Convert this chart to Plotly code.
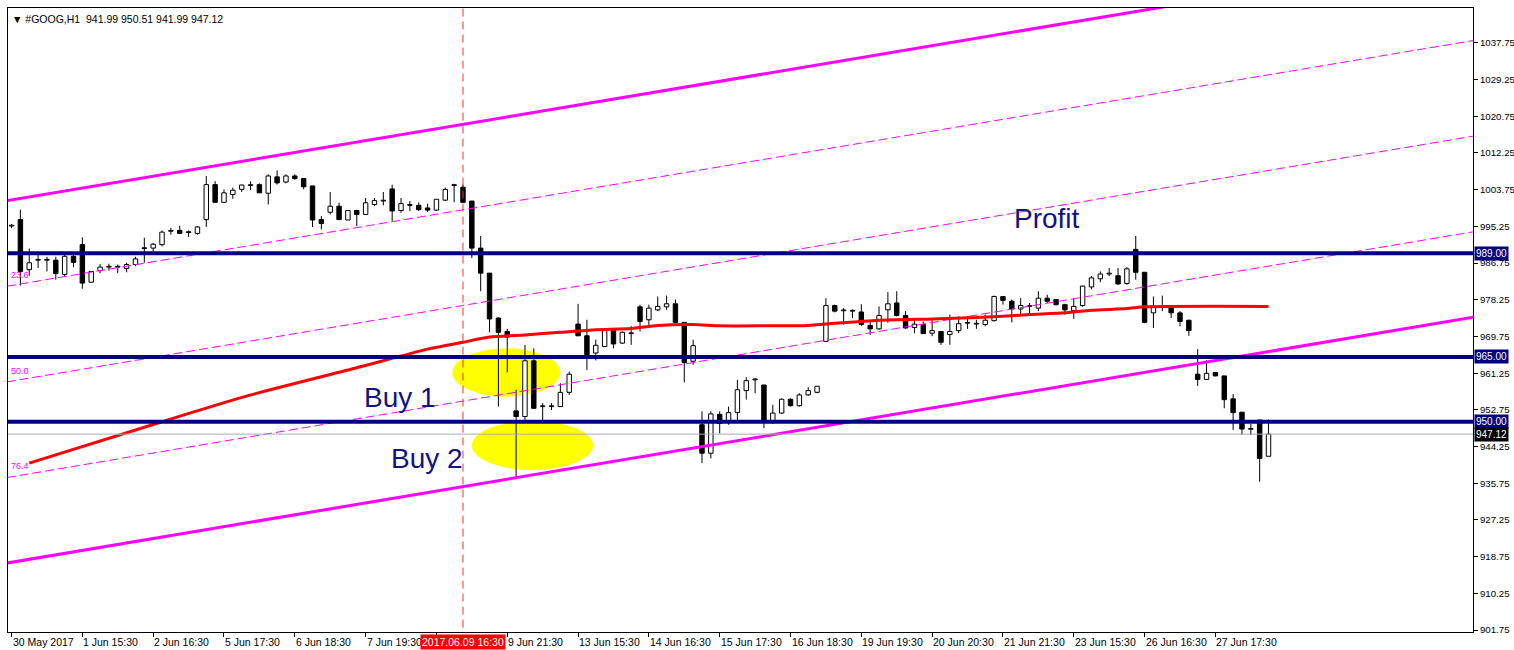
import plotly.graph_objects as go

# ---------------- data ----------------
bar_index = list(range(143))

opens = [995.3, 996.8, 985.2, 987.4, 987.5, 987.4, 984.1, 988.3, 991.0, 982.3,
         985.0, 985.8, 985.8, 985.5, 986.4, 990.2, 990.2, 991.0, 994.1, 994.3,
         993.9, 993.6, 996.8, 1004.9, 1000.8, 1002.6, 1003.8, 1004.7, 1004.9, 1002.9,
         1006.7, 1005.5, 1006.9, 1006.3, 1004.6, 996.8, 998.5, 999.9, 996.7, 998.9,
         998.0, 1000.3, 1001.1, 1003.9, 998.9, 1000.1, 1000.1, 999.5, 999.0, 1001.3,
         1004.8, 1004.3, 1001.1, 990.2, 984.4, 974.0, 970.9, 952.5, 951.2, 964.1,
         953.5, 953.5, 953.5, 956.8, 972.6, 969.9, 965.9, 967.4, 971.1, 968.2,
         970.4, 976.6, 973.6, 975.9, 976.6, 977.3, 973.0, 964.0, 949.3, 942.7,
         951.7, 949.8, 952.1, 957.2, 959.7, 958.5, 950.0, 952.0, 955.2, 953.7,
         956.2, 956.8, 968.6, 976.9, 975.7, 975.6, 975.4, 972.3, 971.5, 975.9,
         977.5, 974.6, 971.8, 972.5, 970.5, 970.9, 970.2, 971.1, 972.8, 972.6,
         972.5, 973.4, 979.0, 977.9, 976.1, 976.7, 976.3, 978.6, 978.3, 977.1,
         975.7, 976.9, 981.2, 983.1, 984.2, 983.8, 982.0, 989.9, 984.6, 975.2,
         976.6, 976.3, 975.2, 973.5, 961.0, 959.8, 961.4, 960.6, 955.3, 952.2,
         948.25, 950.4, 941.99]

highs = [995.8, 999.1, 990.1, 988.7, 988.2, 988.2, 988.7, 989.1, 992.7, 984.8,
         986.5, 986.6, 986.4, 986.8, 988.2, 992.6, 991.4, 994.3, 994.9, 995.4,
         994.3, 995.3, 1006.9, 1005.7, 1003.8, 1004.2, 1004.9, 1005.7, 1005.2, 1007.3,
         1008.2, 1007.3, 1007.3, 1006.3, 1004.6, 997.6, 1003.2, 1000.7, 998.9, 999.1,
         1001.8, 1001.8, 1003.2, 1004.9, 1001.8, 1001.1, 1000.8, 1000.5, 1001.5, 1004.2,
         1005.1, 1004.9, 1001.1, 993.0, 984.4, 974.2, 971.5, 957.4, 967.8, 967.0,
         954.3, 954.3, 958.9, 961.6, 977.3, 973.6, 969.0, 971.7, 971.3, 970.9,
         972.1, 977.1, 977.1, 979.0, 979.2, 978.3, 973.0, 969.0, 952.4, 952.4,
         952.4, 953.5, 959.7, 960.3, 960.1, 958.5, 953.9, 955.4, 955.4, 956.6,
         958.0, 958.2, 978.6, 977.1, 976.3, 976.0, 977.2, 973.2, 976.7, 980.0,
         980.2, 975.6, 973.6, 973.2, 974.0, 970.9, 974.8, 974.4, 974.4, 973.6,
         974.8, 979.2, 979.0, 978.3, 978.6, 977.5, 980.2, 979.4, 978.4, 977.3,
         978.6, 981.5, 983.7, 984.8, 985.6, 985.6, 985.8, 993.0, 984.6, 979.0,
         979.2, 976.6, 975.6, 973.6, 966.8, 964.2, 961.4, 960.6, 956.4, 952.2,
         949.5, 950.4, 950.51]

lows = [994.8, 981.5, 983.8, 985.6, 984.8, 982.9, 983.7, 985.8, 980.8, 982.3,
        984.4, 985.0, 984.4, 984.6, 986.0, 986.8, 988.9, 990.6, 993.3, 993.6,
        992.8, 993.3, 995.1, 1000.8, 1000.7, 1001.6, 1003.2, 1003.6, 1003.0, 1000.3,
        1004.9, 1005.2, 1006.0, 1003.8, 995.1, 994.5, 998.0, 996.7, 996.7, 995.3,
        998.0, 999.9, 1000.1, 996.4, 998.4, 998.8, 998.8, 998.6, 998.8, 1001.1,
        1000.8, 1000.7, 987.9, 980.2, 970.7, 953.5, 961.4, 936.9, 950.4, 953.1,
        950.4, 952.7, 953.5, 956.2, 969.8, 962.0, 964.2, 967.3, 967.0, 968.0,
        967.8, 970.9, 972.2, 975.6, 975.9, 972.8, 959.1, 963.2, 940.4, 941.5,
        947.3, 949.3, 950.4, 955.1, 956.6, 948.5, 949.5, 951.8, 953.5, 953.5,
        956.0, 956.6, 968.6, 975.3, 972.5, 974.0, 972.2, 970.1, 971.3, 972.9,
        974.4, 971.5, 970.5, 970.4, 969.8, 967.8, 967.8, 970.5, 971.5, 971.5,
        972.1, 973.2, 977.1, 973.0, 974.8, 975.2, 975.6, 977.5, 976.9, 974.8,
        973.8, 976.6, 980.7, 982.3, 983.7, 981.7, 981.7, 982.9, 972.8, 971.7,
        975.6, 974.0, 972.1, 969.9, 958.3, 959.8, 960.5, 953.1, 948.1, 946.9,
        946.9, 936.1, 941.99]

closes = [995.5, 984.8, 986.8, 987.5, 987.4, 984.3, 988.3, 986.9, 982.1, 984.8,
          985.8, 985.9, 985.9, 986.4, 987.7, 990.1, 991.1, 993.9, 994.2, 993.6,
          993.8, 995.1, 1004.9, 1000.8, 1003.0, 1003.6, 1004.8, 1004.8, 1003.0, 1006.9,
          1005.3, 1006.9, 1006.3, 1004.4, 996.7, 995.9, 999.9, 996.8, 998.9, 998.0,
          1000.7, 1001.2, 1001.2, 998.8, 1000.5, 1000.2, 999.1, 999.0, 1001.5, 1003.8,
          1004.7, 1000.8, 990.2, 984.4, 973.8, 970.7, 969.6, 951.2, 964.1, 953.1,
          953.6, 953.6, 956.8, 961.0, 969.9, 965.5, 967.7, 971.1, 968.0, 970.7,
          970.5, 973.2, 976.3, 976.7, 977.3, 973.0, 963.7, 967.6, 942.7, 951.8,
          949.6, 952.1, 957.4, 959.5, 959.8, 950.0, 952.0, 955.2, 953.7, 956.2,
          957.2, 958.2, 976.9, 975.6, 975.8, 975.7, 972.5, 971.5, 974.6, 977.3,
          974.6, 971.7, 972.6, 970.4, 971.1, 968.4, 970.9, 972.7, 972.9, 972.7,
          973.5, 979.0, 978.1, 976.1, 976.9, 976.8, 978.6, 977.9, 977.1, 975.9,
          976.7, 981.4, 983.3, 984.2, 984.3, 981.9, 985.4, 984.6, 973.0, 976.6,
          976.7, 975.2, 973.2, 971.1, 959.8, 961.2, 960.6, 955.1, 952.1, 948.3,
          948.3, 941.5, 947.12]

# moving average read at selected bars
ma_index = [2, 17, 27, 39, 47, 51, 54, 58, 62, 66, 70, 73, 77, 80, 85, 90, 93,
            98, 104, 109, 115, 119, 122, 126, 128, 142]
ma_values = [940.4, 950.0, 956.2, 962.5, 966.8, 968.4, 969.6, 970.1, 970.7, 971.3,
             971.6, 972.3, 972.5, 972.2, 972.2, 972.3, 972.8, 973.5, 973.8, 974.1,
             974.8, 975.2, 975.8, 976.2, 976.6, 976.7]

# time axis labels (every 8 bars; the one at bar 48 is hidden under the marker label)
tick_index = [0, 8, 16, 24, 32, 40, 48, 56, 64, 72, 80, 88, 96, 104, 112, 120, 128, 136]
tick_labels = ["30 May 2017", "1 Jun 15:30", "2 Jun 16:30", "5 Jun 17:30", "6 Jun 18:30",
               "7 Jun 19:30", "", "9 Jun 21:30", "13 Jun 15:30", "14 Jun 16:30",
               "15 Jun 17:30", "16 Jun 18:30", "19 Jun 19:30", "20 Jun 20:30",
               "21 Jun 21:30", "23 Jun 15:30", "26 Jun 16:30", "27 Jun 17:30"]

price_ticks = [1037.75, 1029.25, 1020.75, 1012.25, 1003.75, 995.25, 986.75, 978.25,
               969.75, 961.25, 952.75, 944.25, 935.75, 927.25, 918.75, 910.25, 901.75]

# horizontal levels and Fibonacci channel
level_prices = [989.0, 965.0, 950.0]
fib_levels = [0.0, 23.6, 50.0, 76.4, 100.0]
fib_label_levels = [23.6, 50.0, 76.4]
channel_bars = [0, 142]
channel_upper = [1001.35, 1050.13]
channel_lower = [917.45, 966.23]

marker_bar = 51
marker_label = "2017.06.09 16:30"
symbol = "#GOOG,H1"

# annotation zones (Buy areas)
zone_buy1 = (49.8, 62.0, 955.8, 967.0)
zone_buy2 = (52.0, 65.7, 938.8, 950.2)

# ---------------- figure ----------------
X_RANGE = [-0.4, 165.1]
Y_RANGE = [901.3, 1045.8]
NAVY = "#000080"
MAG = "#ff00ff"
FONT = "Liberation Sans, Arial"

fig = go.Figure()

for (x0, x1, y0, y1) in (zone_buy1, zone_buy2):
    fig.add_shape(type="circle", xref="x", yref="y", x0=x0, x1=x1, y0=y0, y1=y1,
                  fillcolor="#ffff00", line=dict(width=0), layer="below")

# candle bodies
MIN_BODY = 0.18
bases, heights, fills = [], [], []
for o, c in zip(opens, closes):
    b = min(o, c)
    h = max(abs(c - o), MIN_BODY)
    bases.append(b)
    heights.append(h)
    fills.append("white" if c >= o else "black")

fig.add_trace(go.Bar(x=bar_index, y=heights, base=bases, width=0.5,
                     marker=dict(color=fills, line=dict(color="black", width=1)),
                     hoverinfo="skip", showlegend=False))

# wicks
wx, wy = [], []
for i, b, h, hi, lo in zip(bar_index, bases, heights, highs, lows):
    top = b + h
    if hi > top:
        wx += [i, i, None]
        wy += [top, hi, None]
    if lo < b:
        wx += [i, i, None]
        wy += [lo, b, None]
fig.add_trace(go.Scatter(x=wx, y=wy, mode="lines", line=dict(color="black", width=1),
                         hoverinfo="skip", showlegend=False))

# Fibonacci channel
slope_u = (channel_upper[1] - channel_upper[0]) / (channel_bars[1] - channel_bars[0])
slope_l = (channel_lower[1] - channel_lower[0]) / (channel_bars[1] - channel_bars[0])
xa, xb = -2.0, 170.0


def upper_at(x):
    return channel_upper[0] + slope_u * (x - channel_bars[0])


def lower_at(x):
    return channel_lower[0] + slope_l * (x - channel_bars[0])


def fib_at(x, lvl):
    u = upper_at(x)
    return u - lvl / 100.0 * (u - lower_at(x))


for lvl in fib_levels:
    solid = lvl in (0.0, 100.0)
    fig.add_trace(go.Scatter(
        x=[xa, xb], y=[fib_at(xa, lvl), fib_at(xb, lvl)], mode="lines",
        line=dict(color=MAG, width=3 if solid else 1, dash=None if solid else "9px,4px"),
        hoverinfo="skip", showlegend=False))

# moving average
fig.add_trace(go.Scatter(x=ma_index, y=ma_values, mode="lines",
                         line=dict(color="#ff0000", width=3, shape="spline", smoothing=0.6),
                         hoverinfo="skip", showlegend=False))

# bid line
fig.add_trace(go.Scatter(x=[xa, xb], y=[closes[-1], closes[-1]], mode="lines",
                         line=dict(color="#a8acb8", width=1),
                         hoverinfo="skip", showlegend=False))

# horizontal levels
for p in level_prices:
    fig.add_trace(go.Scatter(x=[xa, xb], y=[p, p], mode="lines",
                             line=dict(color=NAVY, width=4),
                             hoverinfo="skip", showlegend=False))

# vertical marker
fig.add_trace(go.Scatter(x=[marker_bar, marker_bar], y=[Y_RANGE[0] - 5, Y_RANGE[1] + 5],
                         mode="lines", line=dict(color="#ff3030", width=1, dash="8px,5px"),
                         hoverinfo="skip", showlegend=False))

annotations = []

# header
annotations.append(dict(
    xref="paper", yref="paper", x=0, y=1, xanchor="left", yanchor="top",
    xshift=2, yshift=-3, showarrow=False,
    text="\u25bc %s  %.2f %.2f %.2f %.2f" % (symbol, opens[-1], highs[-1], lows[-1], closes[-1]),
    font=dict(family=FONT, size=10.5, color="black")))

# time labels
for xi, lab in zip(tick_index, tick_labels):
    if not lab:
        continue
    annotations.append(dict(
        xref="x", yref="paper", x=xi, y=0, xanchor="left", yanchor="top",
        xshift=-1, yshift=-2, showarrow=False, text=lab,
        font=dict(family=FONT, size=10.5, color="black")))

annotations.append(dict(
    xref="x", yref="paper", x=marker_bar, y=0, xanchor="center", yanchor="top",
    yshift=-2, showarrow=False, text=marker_label, bgcolor="#ff0000", borderpad=1,
    font=dict(family=FONT, size=10.5, color="white")))

# price boxes
for p in level_prices:
    annotations.append(dict(
        xref="paper", yref="y", x=1, y=p, xanchor="left", yanchor="middle",
        xshift=1, showarrow=False, text="%.2f" % p, bgcolor=NAVY, borderpad=1,
        font=dict(family=FONT, size=10, color="white")))
annotations.append(dict(
    xref="paper", yref="y", x=1, y=closes[-1], xanchor="left", yanchor="middle",
    xshift=1, showarrow=False, text="%.2f" % closes[-1], bgcolor="black", borderpad=1,
    font=dict(family=FONT, size=10, color="white")))

# fib labels at left edge
for lvl in fib_label_levels:
    annotations.append(dict(
        xref="paper", yref="y", x=0, y=fib_at(X_RANGE[0], lvl), xanchor="left",
        yanchor="bottom", xshift=1, yshift=4, showarrow=False, text="%.1f" % lvl,
        font=dict(family=FONT, size=9, color=MAG)))

# text labels
for txt, xi, yi in (("Buy 1", 43.9, 955.5), ("Buy 2", 46.9, 941.4), ("Profit", 117.0, 997.0)):
    annotations.append(dict(
        xref="x", yref="y", x=xi, y=yi, xanchor="center", yanchor="middle",
        showarrow=False, text=txt,
        font=dict(family=FONT, size=28, color="#12127e")))

fig.update_layout(
    width=1514, height=650,
    margin=dict(l=8, r=41, t=8, b=18, autoexpand=False),
    paper_bgcolor="white", plot_bgcolor="white",
    showlegend=False, hovermode=False,
    annotations=annotations,
    xaxis=dict(range=X_RANGE, tickvals=tick_index, ticktext=[""] * len(tick_index),
               ticks="outside", ticklen=4, tickcolor="black", showgrid=False,
               zeroline=False, showline=True, linecolor="black", linewidth=1, mirror=True,
               fixedrange=True, automargin=False),
    yaxis=dict(range=Y_RANGE, side="right", tickvals=price_ticks,
               ticktext=["%.2f" % v for v in price_ticks],
               ticks="outside", ticklen=4, tickcolor="black", showgrid=False,
               zeroline=False, showline=True, linecolor="black", linewidth=1, mirror=True,
               tickfont=dict(family=FONT, size=9.7, color="black"),
               fixedrange=True, automargin=False),
)

fig.write_html(
    "out.html",
    config={"displayModeBar": False, "staticPlot": True},
    post_script="document.documentElement.style.margin='0';"
                "document.body.style.margin='0';document.body.style.overflow='hidden';",
)
